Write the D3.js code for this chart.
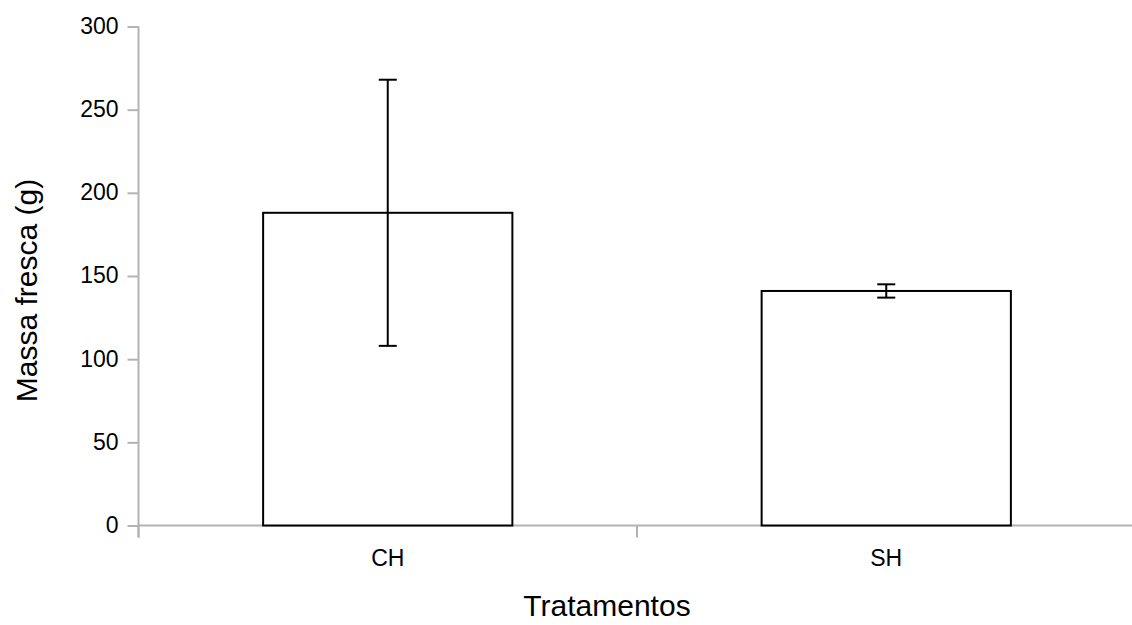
<!DOCTYPE html>
<html><head><meta charset="utf-8">
<script src="https://cdn.jsdelivr.net/npm/d3@7/dist/d3.min.js"></script>
<style>body{margin:0;background:#fff;}svg{display:block;font-family:"Liberation Sans",Arial,sans-serif;}</style>
</head><body>
<svg id="c" width="1132" height="625"></svg>
<script>
const categories = ["CH", "SH"];
const means = [188, 141];
const errors = [80, 4];
const yTicks = [0, 50, 100, 150, 200, 250, 300];

(function () {
const svg = d3.select("#c");
const pL = 138.5, pR = 1135.5, pT = 26.5, pB = 525.5;
const x = d3.scaleBand().domain(categories).range([pL, pR]).paddingInner(0.5).paddingOuter(0.25);
const y = d3.scaleLinear().domain([0, 300]).range([pB, pT]);
const axisColor = "#b3b3b3";

// y axis
const ya = svg.append("g").attr("transform", `translate(${pL},0)`)
  .call(d3.axisLeft(y).tickValues(yTicks).tickSize(11).tickPadding(9));
ya.select(".domain").remove();
ya.selectAll("line").attr("stroke", axisColor).attr("stroke-width", 2);
ya.selectAll("text").attr("font-size", 23).attr("fill", "#000").attr("dy", "0.3em");
svg.append("line").attr("x1", pL).attr("x2", pL).attr("y1", pT).attr("y2", pB + 12)
  .attr("stroke", axisColor).attr("stroke-width", 2);

// x axis line and boundary ticks
svg.append("line").attr("x1", pL).attr("x2", 1132).attr("y1", pB).attr("y2", pB)
  .attr("stroke", axisColor).attr("stroke-width", 2);
const step = x.step();
const bounds = [pL, pL + step];
svg.selectAll(".xt").data(bounds).join("line")
  .attr("x1", d => d).attr("x2", d => d).attr("y1", pB).attr("y2", pB + 12)
  .attr("stroke", axisColor).attr("stroke-width", 2);
svg.selectAll(".xl").data(categories).join("text")
  .attr("x", d => x(d) + x.bandwidth() / 2).attr("y", 566)
  .attr("text-anchor", "middle").attr("font-size", 23).attr("fill", "#000").text(d => d);

// bars
svg.selectAll(".bar").data(categories).join("rect")
  .attr("x", d => x(d)).attr("width", x.bandwidth())
  .attr("y", (d, i) => y(means[i])).attr("height", (d, i) => pB - y(means[i]))
  .attr("fill", "#fff").attr("stroke", "#000").attr("stroke-width", 2);

// error bars
const g = svg.selectAll(".err").data(categories).join("g");
g.append("line").attr("x1", d => x(d) + x.bandwidth() / 2).attr("x2", d => x(d) + x.bandwidth() / 2)
  .attr("y1", (d, i) => y(means[i] + errors[i])).attr("y2", (d, i) => y(means[i] - errors[i]))
  .attr("stroke", "#000").attr("stroke-width", 2);
[1, -1].forEach(s => {
  g.append("line").attr("x1", d => x(d) + x.bandwidth() / 2 - 9).attr("x2", d => x(d) + x.bandwidth() / 2 + 9)
    .attr("y1", (d, i) => y(means[i] + s * errors[i])).attr("y2", (d, i) => y(means[i] + s * errors[i]))
    .attr("stroke", "#000").attr("stroke-width", 2);
});

// titles
svg.append("text").attr("x", 607).attr("y", 616).attr("text-anchor", "middle")
  .attr("font-size", 30).attr("fill", "#000").text("Tratamentos");
svg.append("text").attr("transform", "translate(37,290.5) rotate(-90)").attr("text-anchor", "middle")
  .attr("font-size", 30).attr("fill", "#000").text("Massa fresca (g)");
})();
</script>
</body></html>
